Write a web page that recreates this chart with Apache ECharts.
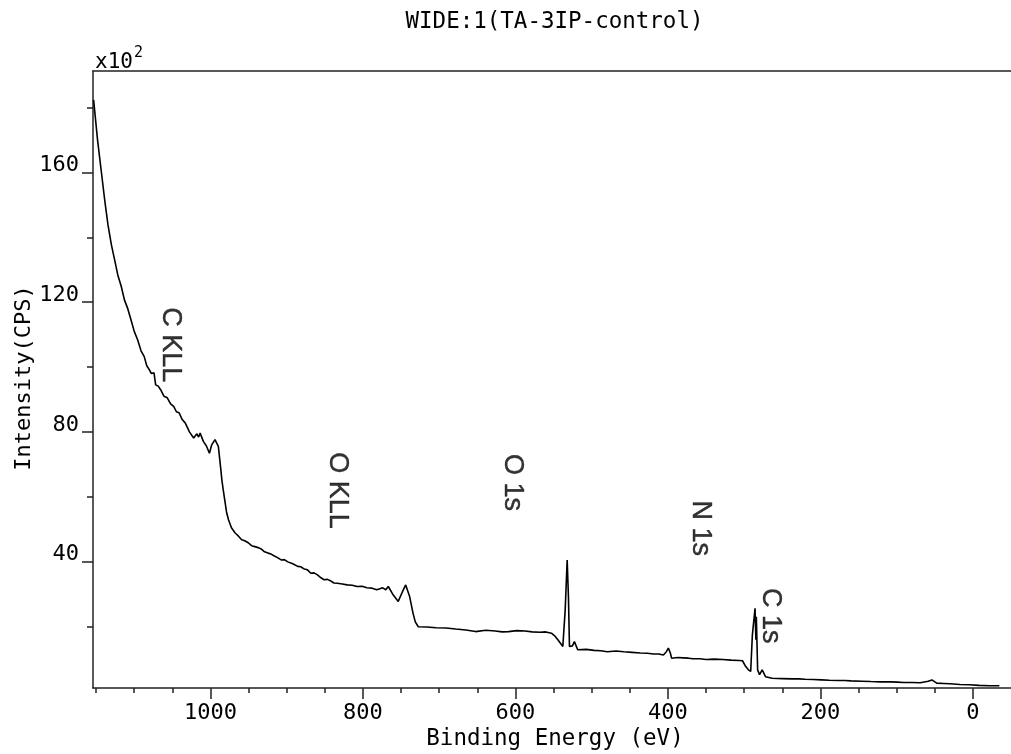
<!DOCTYPE html>
<html>
<head>
<meta charset="utf-8">
<script src="https://cdn.jsdelivr.net/npm/echarts@6/dist/echarts.min.js"></script>
<style>
  html, body { margin: 0; padding: 0; background: #fff; }
  #chart { width: 1011px; height: 754px; }
</style>
</head>
<body>
<div id="chart"></div>
<script>
// Binding energy (eV) and intensity (x10^2 CPS)
const energy = [
  1153.2, 1148.0, 1143.1, 1138.5, 1134.4, 1129.8, 1125.7, 1121.5, 1117.0, 1112.8,
  1108.4, 1104.2, 1099.9, 1095.5, 1091.0, 1086.8, 1083.5, 1080.0, 1077.5, 1076.1,
  1074.0, 1071.8, 1068.5, 1065.3, 1061.0, 1056.6, 1052.2, 1048.0, 1044.6, 1041.1,
  1037.0, 1032.9, 1027.5, 1022.0, 1019.8, 1017.8, 1015.5, 1013.5, 1009.1, 1005.4,
  1001.3, 998.3, 994.0, 989.6, 986.3, 985.0, 983.2, 980.6, 978.9, 976.3,
  972.4, 967.6, 963.5, 959.0, 955.0, 950.4, 946.0, 941.7, 937.5, 933.5,
  929.0, 924.4, 920.5, 916.7, 912.0, 907.2, 903.0, 898.5, 892.0, 885.5,
  881.5, 877.8, 873.0, 868.3, 864.0, 859.6, 855.0, 850.9, 846.5, 842.8,
  838.0, 833.7, 827.0, 820.7, 814.0, 807.8, 801.0, 794.8, 788.0, 781.8,
  777.8, 774.1, 770.0, 766.7, 761.1, 753.7, 748.1, 743.9, 738.7, 734.3,
  731.3, 727.4, 716.0, 704.1, 691.0, 678.2, 665.0, 652.2, 639.0, 626.3,
  617.5, 609.1, 598.0, 587.4, 578.0, 568.0, 560.0, 552.8, 548.5, 544.3,
  537.8, 535.6, 534.7, 532.1, 530.4, 529.1, 525.2, 522.6, 518.3, 507.0,
  496.7, 488.0, 479.4, 468.0, 457.8, 447.0, 436.1, 427.0, 418.9, 412.0,
  405.9, 402.0, 399.4, 396.8, 395.2, 387.0, 380.0, 373.0, 367.0, 358.0,
  349.8, 339.0, 328.1, 317.0, 306.5, 302.2, 297.9, 294.4, 291.4, 289.2,
  285.7, 284.6, 284.0, 282.3, 279.8, 276.3, 272.0, 263.3, 250.0, 237.4,
  228.0, 220.2, 209.0, 198.6, 188.0, 176.9, 168.0, 159.7, 146.0, 133.8,
  121.0, 107.8, 99.0, 90.6, 80.0, 69.0, 58.6, 53.8, 47.4, 38.0,
  30.1, 17.0, 4.2, -8.0, -21.7, -34.7
];
const intensity = [
  182.4, 170.0, 160.3, 151.2, 143.9, 137.6, 133.1, 128.4, 124.9, 120.7,
  118.0, 114.6, 111.0, 108.4, 105.0, 103.2, 100.4, 99.1, 98.0, 97.6,
  98.2, 94.5, 94.1, 93.0, 91.0, 90.5, 88.6, 87.8, 86.2, 85.9,
  83.8, 82.7, 80.0, 78.1, 78.7, 79.4, 78.4, 79.6, 77.0, 75.7,
  73.4, 76.0, 77.6, 75.5, 68.3, 65.2, 62.1, 58.0, 55.3, 52.9,
  50.4, 48.8, 47.9, 46.7, 46.4, 45.8, 44.9, 44.6, 44.3, 43.9,
  43.0, 42.6, 42.3, 41.8, 41.2, 40.5, 40.6, 39.9, 39.3, 38.5,
  38.4, 37.8, 37.5, 36.4, 36.5, 35.9, 35.0, 34.4, 34.5, 34.1,
  33.4, 33.3, 33.1, 32.8, 32.7, 32.3, 32.4, 31.9, 31.8, 31.3,
  31.6, 31.9, 31.3, 32.3, 30.0, 27.7, 30.7, 32.8, 29.2, 24.1,
  21.4, 19.9, 19.8, 19.6, 19.5, 19.2, 18.9, 18.4, 18.8, 18.6,
  18.3, 18.4, 18.7, 18.6, 18.3, 18.2, 18.3, 17.9, 17.1, 15.9,
  13.8, 14.0, 25.1, 40.5, 28.8, 13.8, 14.0, 15.3, 12.8, 12.9,
  12.6, 12.5, 12.2, 12.4, 12.2, 12.0, 11.8, 11.7, 11.5, 11.5,
  11.2, 12.2, 13.3, 11.8, 10.2, 10.4, 10.3, 10.2, 10.0, 10.0,
  9.8, 9.9, 9.8, 9.6, 9.5, 9.4, 7.6, 6.6, 6.1, 17.4,
  25.6, 15.9, 23.0, 6.6, 5.1, 6.6, 4.5, 4.0, 3.9, 3.8,
  3.8, 3.7, 3.6, 3.5, 3.4, 3.3, 3.3, 3.2, 3.1, 3.0,
  2.9, 2.9, 2.8, 2.7, 2.7, 2.6, 3.1, 3.5, 2.5, 2.4,
  2.3, 2.1, 2.0, 1.8, 1.7, 1.7
];

// Peak annotations (label text, energy, intensity at label centre)
const peakNames = ['C KLL', 'O KLL', 'O 1s', 'N 1s', 'C 1s'];
const peakEnergy = [1052, 833, 604, 357, 266];
const peakLabelY = [106.9, 61.9, 64.4, 50.3, 23.3];

// Axis ticks
const xMajorTicks = [0, 200, 400, 600, 800, 1000];
const xMinorTicks = [0, 50, 100, 150, 200, 250, 300, 350, 400, 450, 500, 550, 600,
  650, 700, 750, 800, 850, 900, 950, 1000, 1050, 1100, 1150];
const yMajorTicks = [40, 80, 120, 160];
const yMinorTicks = [20, 60, 100, 140, 180];

const titleText = 'WIDE:1(TA-3IP-control)';
const xName = 'Binding Energy (eV)';
const yName = 'Intensity(CPS)';

const MONO = '"DejaVu Sans Mono", "Liberation Mono", monospace';
const AX = '#222';

const chart = echarts.init(document.getElementById('chart'), null, { renderer: 'canvas' });

const X_MIN = -50, X_MAX = 1154, Y_MIN = 1, Y_MAX = 191.3;

const option = {
  animation: false,
  backgroundColor: '#fff',
  grid: { left: 93, right: -11, top: 71, bottom: 66, containLabel: false },
  xAxis: [
    {
      type: 'value', inverse: true, min: X_MIN, max: X_MAX, position: 'bottom', offset: 0,
      axisLine: { show: true, onZero: false, lineStyle: { color: AX, width: 1.5 } },
      axisTick: { show: true, inside: false, length: 11, customValues: xMajorTicks, lineStyle: { color: AX, width: 1.5 } },
      axisLabel: { show: true, customValues: xMajorTicks, margin: 14, fontFamily: MONO, fontSize: 22, lineHeight: 22, color: '#000',
        formatter: v => String(v) },
      splitLine: { show: false }
    },
    {
      type: 'value', inverse: true, min: X_MIN, max: X_MAX, position: 'bottom', offset: 0,
      axisLine: { show: false, onZero: false },
      axisTick: { show: true, length: 5, customValues: xMinorTicks, lineStyle: { color: AX, width: 1.5 } },
      axisLabel: { show: false },
      splitLine: { show: false }
    },
    {
      type: 'value', inverse: true, min: X_MIN, max: X_MAX, position: 'top', offset: 0,
      axisLine: { show: true, onZero: false, lineStyle: { color: AX, width: 1.5 } },
      axisTick: { show: false }, axisLabel: { show: false }, splitLine: { show: false }
    }
  ],
  yAxis: [
    {
      type: 'value', min: Y_MIN, max: Y_MAX, position: 'left', offset: 0,
      axisLine: { show: true, onZero: false, lineStyle: { color: AX, width: 1.5 } },
      axisTick: { show: true, length: 11, customValues: yMajorTicks, lineStyle: { color: AX, width: 1.5 } },
      axisLabel: { show: true, customValues: yMajorTicks, margin: 14, fontFamily: MONO, fontSize: 22,
        lineHeight: 14, verticalAlign: 'bottom', color: '#000' },
      splitLine: { show: false }
    },
    {
      type: 'value', min: Y_MIN, max: Y_MAX, position: 'left', offset: 0,
      axisLine: { show: false, onZero: false },
      axisTick: { show: true, length: 6, customValues: yMinorTicks, lineStyle: { color: AX, width: 1.5 } },
      axisLabel: { show: false }, splitLine: { show: false }
    }
  ],
  series: [
    {
      type: 'line',
      xAxisIndex: 0, yAxisIndex: 0,
      data: energy.map((e, i) => [e, intensity[i]]),
      showSymbol: false, symbol: 'none',
      lineStyle: { color: '#000', width: 1.6 },
      silent: true
    },
    {
      type: 'scatter',
      xAxisIndex: 0, yAxisIndex: 0,
      data: peakNames.map((n, i) => ({ name: n, value: [peakEnergy[i], peakLabelY[i]] })),
      symbolSize: 1,
      itemStyle: { color: 'rgba(0,0,0,0)' },
      label: {
        show: true, position: 'inside', rotate: -90, formatter: '{b}',
        fontFamily: '"Liberation Sans", Arial, sans-serif', fontSize: 27, color: '#000',
        textBorderColor: '#000', textBorderWidth: 0.4
      },
      silent: true
    }
  ],
  graphic: [
    { type: 'text', x: 554.5, y: 22, style: { text: titleText, font: '22.5px ' + MONO, fill: '#000', align: 'center', verticalAlign: 'middle' } },
    { type: 'text', x: 95, y: 63, style: { text: 'x10', font: '21px ' + MONO, fill: '#000', align: 'left', verticalAlign: 'middle' } },
    { type: 'text', x: 134, y: 53, style: { text: '2', font: '15px ' + MONO, fill: '#000', align: 'left', verticalAlign: 'middle' } },
    { type: 'text', x: 24, y: 378, rotation: Math.PI / 2, style: { text: yName, font: '22px ' + MONO, fill: '#000', align: 'center', verticalAlign: 'middle' } },
    { type: 'text', x: 555, y: 739, style: { text: xName, font: '22.5px ' + MONO, fill: '#000', align: 'center', verticalAlign: 'middle' } }
  ]
};
chart.setOption(option);
</script>
</body>
</html>
